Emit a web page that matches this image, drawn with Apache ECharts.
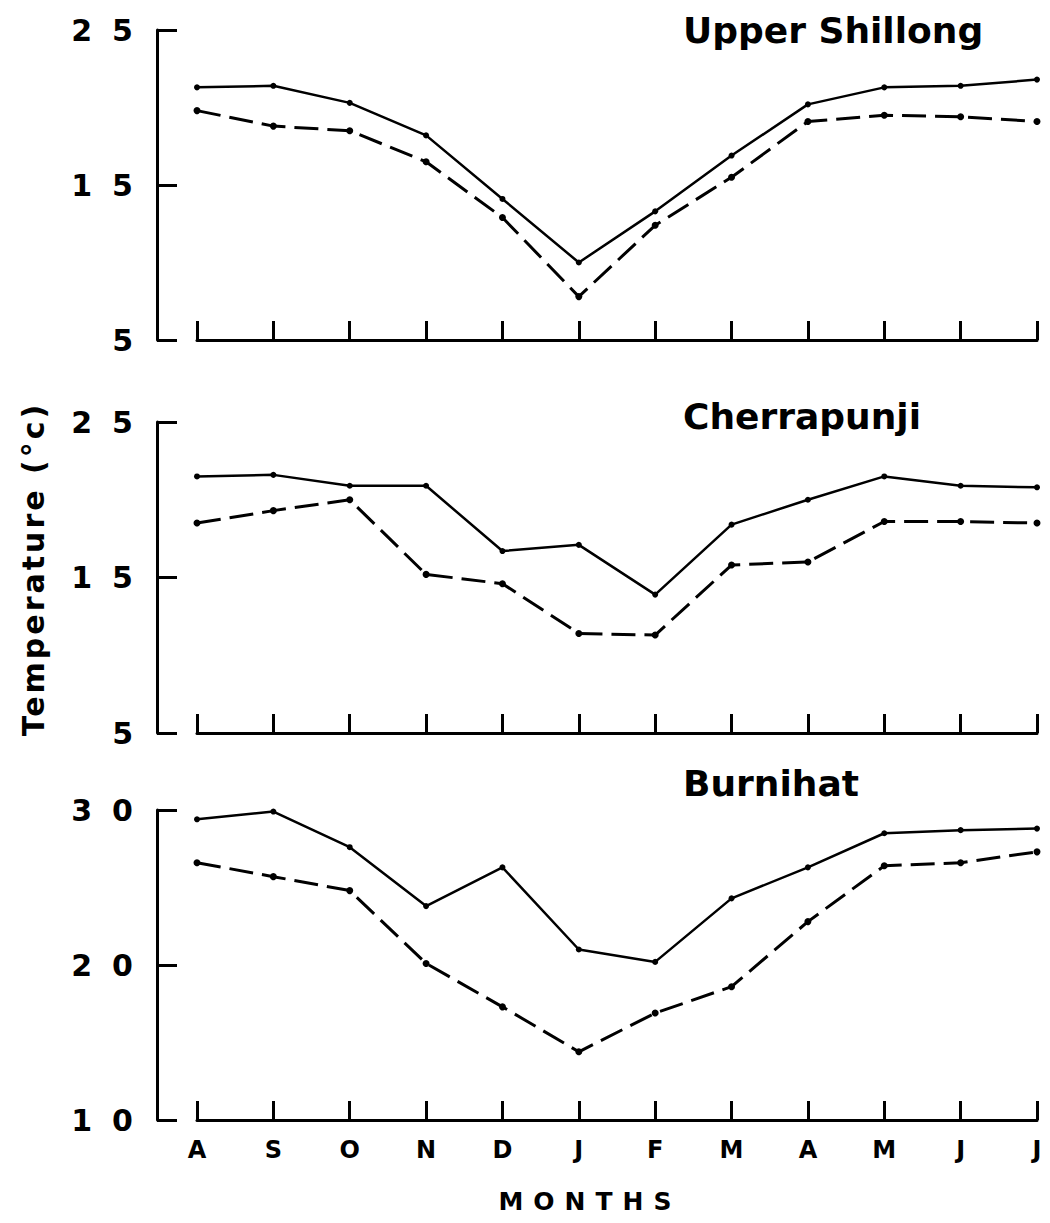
<!DOCTYPE html>
<html><head><meta charset="utf-8">
<script src="https://cdn.jsdelivr.net/npm/echarts@6/dist/echarts.min.js"></script>
<style>html,body{margin:0;padding:0;background:#fff}#c{width:1050px;height:1223px}</style>
</head><body><div id="c"></div>
<script>
// ---- data ----
const months = ['A','S','O','N','D','J','F','M','A','M','J','J'];
const stations = ['Upper Shillong','Cherrapunji','Burnihat'];
const shillongSolid  = [21.3,21.4,20.3,18.2,14.1,10.0,13.3,16.9,20.2,21.3,21.4,21.8];
const shillongDashed = [19.8,18.8,18.5,16.5,12.9,7.8,12.4,15.5,19.1,19.5,19.4,19.1];
const cherraSolid    = [21.5,21.6,20.9,20.9,16.7,17.1,13.9,18.4,20.0,21.5,20.9,20.8];
const cherraDashed   = [18.5,19.3,20.0,15.2,14.6,11.4,11.3,15.8,16.0,18.6,18.6,18.5];
const burniSolid     = [29.4,29.9,27.6,23.8,26.3,21.0,20.2,24.3,26.3,28.5,28.7,28.8];
const burniDashed    = [26.6,25.7,24.8,20.1,17.3,14.4,16.9,18.6,22.8,26.4,26.6,27.3];
const yMins = [5,5,10];
const yMaxs = [25,25,30];
const yInterval = 10;
const yTitle = 'Temperature (°c)';
const xTitle = 'MONTHS';

const solids = [shillongSolid, cherraSolid, burniSolid];
const dashes = [shillongDashed, cherraDashed, burniDashed];

const FONT = "'DejaVu Sans', 'Liberation Sans', sans-serif";
const gridTops = [30, 422, 810];
const gridHeights = [310, 311, 310];
const titleTops = [12, 398, 765];

const grid = [], xAxis = [], yAxis = [], series = [], graphic = [];
for (let i = 0; i < 3; i++) {
  grid.push({left: 197, right: 13, top: gridTops[i], height: gridHeights[i]});
  xAxis.push({
    type: 'category', gridIndex: i, data: months, boundaryGap: false,
    axisLine: {onZero: false, lineStyle: {color: '#000', width: 3}},
    axisTick: {inside: true, length: 19, lineStyle: {color: '#000', width: 3}},
    axisLabel: {show: i === 2, color: '#000', fontSize: 24, fontWeight: 'bold', fontFamily: FONT, margin: 18},
    splitLine: {show: false}
  });
  yAxis.push({
    type: 'value', gridIndex: i, min: yMins[i], max: yMaxs[i], interval: yInterval, offset: 40,
    axisLine: {show: true, lineStyle: {color: '#000', width: 3}},
    axisTick: {show: true, inside: true, length: 20, lineStyle: {color: '#000', width: 3}},
    axisLabel: {color: '#000', fontSize: 30, fontWeight: 'bold', fontFamily: FONT, margin: 4},
    splitLine: {show: false}
  });
  series.push({
    type: 'line', xAxisIndex: i, yAxisIndex: i, data: solids[i],
    symbol: 'circle', symbolSize: 6, itemStyle: {color: '#000'},
    lineStyle: {color: '#000', width: 2.5}
  });
  series.push({
    type: 'line', xAxisIndex: i, yAxisIndex: i, data: dashes[i],
    symbol: 'circle', symbolSize: 7, itemStyle: {color: '#000'},
    lineStyle: {color: '#000', width: 3, type: [24, 9]}
  });
  graphic.push({
    type: 'text', left: 683, top: titleTops[i],
    style: {text: stations[i], font: "bold 36px " + FONT, fill: '#000'}
  });
}
graphic.push({
  type: 'text', x: 33, y: 569, rotation: Math.PI / 2,
  style: {text: yTitle, font: "bold 30px " + FONT, fill: '#000', align: 'center', verticalAlign: 'middle'}
});
graphic.push({
  type: 'text', x: 590, y: 1201,
  style: {text: xTitle, font: "bold 25px " + FONT, fill: '#000', align: 'center', verticalAlign: 'middle'}
});

const chart = echarts.init(document.getElementById('c'), null, {renderer: 'svg'});
chart.setOption({animation: false, grid, xAxis, yAxis, series, graphic});

const spacing = {};
spacing[yTitle] = '3px';
spacing[xTitle] = '10px';
['5','10','15','20','25','30'].forEach(t => spacing[t] = '20px');
function applySpacing() {
  document.querySelectorAll('#c svg text').forEach(el => {
    const t = el.textContent;
    if (spacing[t]) el.style.letterSpacing = spacing[t];
  });
}
chart.on('finished', applySpacing);
applySpacing();
setTimeout(applySpacing, 0);
setTimeout(applySpacing, 100);
</script></body></html>
